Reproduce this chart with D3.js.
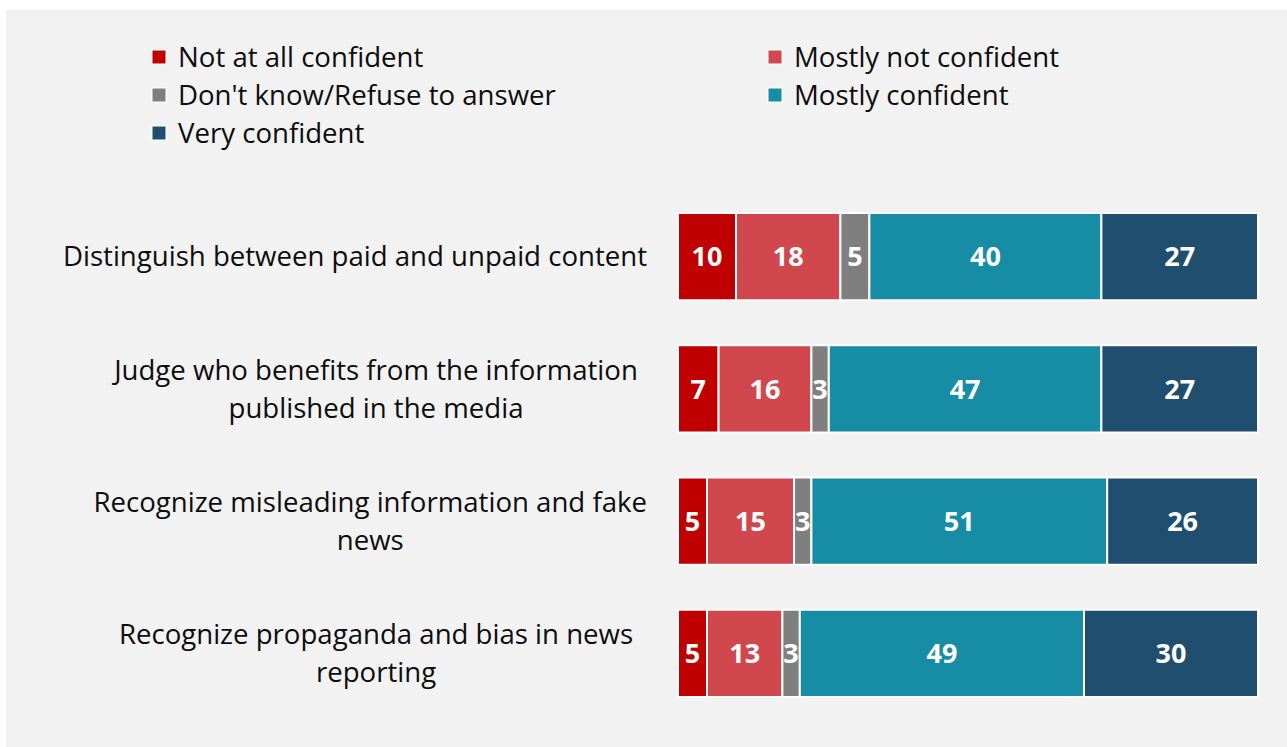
<!DOCTYPE html>
<html>
<head>
<meta charset="utf-8">
<script src="https://cdn.jsdelivr.net/npm/d3@7"></script>
<style>
  body { margin: 0; background: #ffffff; }
  svg text { font-family: "Open Sans", "Noto Sans", sans-serif; }
</style>
</head>
<body>
<div id="chart"></div>
<script>
// category labels (lines as they wrap in the original)
const categories = [
  ["Distinguish between paid and unpaid content"],
  ["Judge who benefits from the information", "published in the media"],
  ["Recognize misleading information and fake", "news"],
  ["Recognize propaganda and bias in news", "reporting"]
]
const seriesNames = ["Not at all confident", "Mostly not confident", "Don't know/Refuse to answer", "Mostly confident", "Very confident"]
const seriesColors = ["#c00000", "#d0474e", "#7f7f7f", "#178da5", "#1f4e6e"]

const notAtAll   = [10, 7, 5, 5]
const mostlyNot  = [18, 16, 15, 13]
const dontKnow   = [5, 3, 3, 3]
const mostly     = [40, 47, 51, 49]
const very       = [27, 27, 26, 30]

const W = 1287, H = 747
const fontSize = "27.6px"

let svg = d3.select("#chart").append("svg")
  .attr("width", W)
  .attr("height", H)

svg.append("rect")
  .attr("x", 6).attr("y", 10)
  .attr("width", W - 6).attr("height", H - 10)
  .attr("fill", "#f2f2f2")

let keys = categories.map(c => c.join(" "))
let rows = keys.map((k, i) => ({
  key: k,
  lines: categories[i],
  vals: [notAtAll[i], mostlyNot[i], dontKnow[i], mostly[i], very[i]]
}))

let x = d3.scaleLinear().domain([0, 100]).range([678, 1258])
let y = d3.scaleBand()
  .domain(keys)
  .range([190.5, 719.5])
  .paddingInner(0.34)
  .paddingOuter(0.17)

// stacked segments
let stack = d3.stack().keys(d3.range(5))
let stacked = stack(rows.map(r => r.vals))

let layers = svg.append("g").selectAll("g")
  .data(stacked)
  .enter().append("g")
  .attr("fill", (d, i) => seriesColors[i])

layers.selectAll("rect")
  .data((d) => d.map((s, i) => ({s: s, key: keys[i]})))
  .enter().append("rect")
  .attr("x", d => x(d.s[0]))
  .attr("y", d => y(d.key))
  .attr("width", d => x(d.s[1]) - x(d.s[0]))
  .attr("height", y.bandwidth())
  .attr("stroke", "#ffffff")
  .attr("stroke-width", 2)

layers.selectAll("text")
  .data((d) => d.map((s, i) => ({s: s, key: keys[i], v: s[1] - s[0]})))
  .enter().append("text")
  .attr("x", d => x((d.s[0] + d.s[1]) / 2))
  .attr("y", d => y(d.key) + y.bandwidth() / 2)
  .attr("dy", "0.36em")
  .attr("text-anchor", "middle")
  .attr("fill", "#ffffff")
  .style("font-size", "27px")
  .style("font-weight", "bold")
  .text(d => d.v)

// category labels: centred in the label area, pushed left if too wide
const labelRight = 647, labelCenter = 376
let lab = svg.append("g").selectAll("text")
  .data(rows)
  .enter().append("text")
  .style("font-size", fontSize)
  .attr("fill", "#0d0d0d")
  .attr("text-anchor", "middle")

lab.each(function(d) {
  let t = d3.select(this)
  let n = d.lines.length
  let cy = y(d.key) + y.bandwidth() / 2
  let w = 0
  d.lines.forEach((ln, j) => {
    let sp = t.append("tspan")
      .attr("x", 0)
      .attr("y", cy + (j - (n - 1) / 2) * 38)
      .attr("dy", "0.35em")
      .text(ln)
    w = Math.max(w, sp.node().getComputedTextLength())
  })
  t.selectAll("tspan").attr("x", Math.min(labelCenter, labelRight - w / 2))
})

// legend, two columns filled row by row
const legX = [152, 768], legY = [57, 95, 133]
let leg = svg.append("g").selectAll("g")
  .data(seriesNames)
  .enter().append("g")
  .attr("transform", (d, i) => "translate(" + legX[i % 2] + "," + legY[Math.floor(i / 2)] + ")")

leg.append("rect")
  .attr("x", 0).attr("y", -7)
  .attr("width", 14).attr("height", 14)
  .attr("fill", (d, i) => seriesColors[i])
  .attr("stroke", "#ffffff")
  .attr("stroke-width", 1)

leg.append("text")
  .attr("x", 26)
  .attr("dy", "0.35em")
  .style("font-size", fontSize)
  .attr("fill", "#0d0d0d")
  .text(d => d)
</script>
</body>
</html>
